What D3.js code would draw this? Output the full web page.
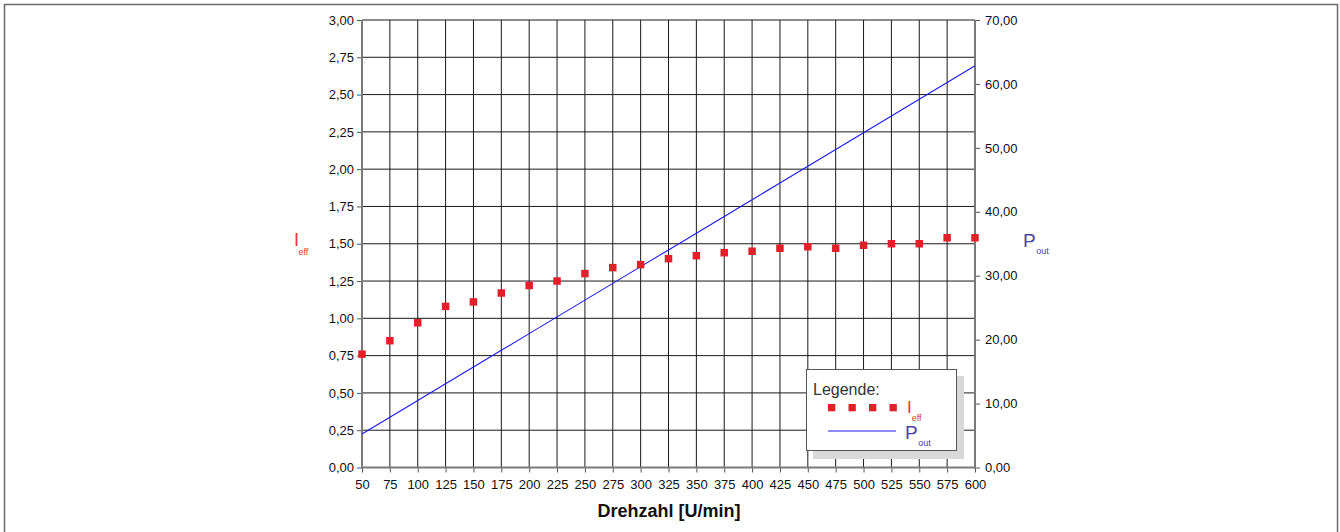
<!DOCTYPE html>
<html>
<head>
<meta charset="utf-8">
<script src="https://cdn.jsdelivr.net/npm/d3@7"></script>
<style>
  html, body { margin: 0; padding: 0; background: #fff; }
  svg { display: block; font-family: "Liberation Sans", Arial, sans-serif; }
</style>
</head>
<body>
<svg id="chart" width="1340" height="532"></svg>
<script>
// Drehzahl in U/min
const drehzahl = [50, 75, 100, 125, 150, 175, 200, 225, 250, 275, 300, 325, 350, 375, 400, 425, 450, 475, 500, 525, 550, 575, 600];
// Effektivstrom I_eff (linke Achse)
const iEff = [0.76, 0.85, 0.97, 1.08, 1.11, 1.17, 1.22, 1.25, 1.30, 1.34, 1.36, 1.40, 1.42, 1.44, 1.45, 1.47, 1.48, 1.47, 1.49, 1.50, 1.50, 1.54, 1.54];
// Abgegebene Leistung P_out (rechte Achse)
const pOut = [5.24, 7.85, 10.47, 13.09, 15.71, 18.33, 20.94, 23.56, 26.18, 28.80, 31.42, 34.03, 36.65, 39.27, 41.89, 44.51, 47.12, 49.74, 52.36, 54.98, 57.60, 60.21, 62.83];
// Achsenbeschriftungen
const xTicks = drehzahl;
const yLeftTicks = [0, 0.25, 0.5, 0.75, 1, 1.25, 1.5, 1.75, 2, 2.25, 2.5, 2.75, 3];
const yRightTicks = [0, 10, 20, 30, 40, 50, 60, 70];
const xTitle = "Drehzahl [U/min]";
const legendTitle = "Legende:";

const svg = d3.select("#chart");
const plot = { left: 362, right: 975, top: 20, bottom: 467.5 };

const x = d3.scaleLinear().domain([50, 600]).range([plot.left, plot.right]);
const yL = d3.scaleLinear().domain([0, 3]).range([plot.bottom, plot.top]);
const yR = d3.scaleLinear().domain([0, 70]).range([plot.bottom, plot.top]);

const fmt = v => d3.format(".2f")(v).replace(".", ",");

// Rahmen um die Grafik
svg.append("rect")
  .attr("x", 4.5).attr("y", 4.5).attr("width", 1333).attr("height", 600)
  .attr("fill", "none").attr("stroke", "#6a6a6a").attr("stroke-width", 1.5);

// Gitternetz
const grid = svg.append("g");
grid.selectAll(".gh").data(yLeftTicks.filter(v => v > 0)).join("line")
  .attr("x1", plot.left).attr("x2", plot.right)
  .attr("y1", d => yL(d)).attr("y2", d => yL(d))
  .attr("stroke", "#1a1a1a").attr("stroke-width", 1);
grid.selectAll(".gv").data(xTicks.filter(v => v > 50 && v < 600)).join("line")
  .attr("x1", d => x(d)).attr("x2", d => x(d))
  .attr("y1", plot.top).attr("y2", plot.bottom)
  .attr("stroke", "#1a1a1a").attr("stroke-width", 1);

// Achsen
const axisStyle = g => {
  g.select(".domain").remove();
  g.selectAll(".tick line").attr("stroke", "#555");
  g.selectAll(".tick text").attr("fill", "#111").attr("font-size", 13)
    .attr("font-family", "'Liberation Sans', Arial, sans-serif");
};
svg.append("g").attr("transform", `translate(${plot.left},0)`)
  .call(d3.axisLeft(yL).tickValues(yLeftTicks).tickFormat(fmt).tickSize(5).tickPadding(3))
  .call(axisStyle);
svg.append("g").attr("transform", `translate(${plot.right},0)`)
  .call(d3.axisRight(yR).tickValues(yRightTicks).tickFormat(fmt).tickSize(5).tickPadding(5))
  .call(axisStyle);
svg.append("g").attr("transform", `translate(0,${plot.bottom})`)
  .call(d3.axisBottom(x).tickValues(xTicks).tickFormat(d3.format("d")).tickSize(5).tickPadding(7))
  .call(axisStyle);

// Achslinien
const axisLines = svg.append("g").attr("stroke", "#7a7a7a").attr("stroke-width", 2);
axisLines.append("line").attr("x1", plot.left).attr("x2", plot.left).attr("y1", plot.top).attr("y2", plot.bottom + 1);
axisLines.append("line").attr("x1", plot.right).attr("x2", plot.right).attr("y1", plot.top).attr("y2", plot.bottom + 1);
axisLines.append("line").attr("x1", plot.left).attr("x2", plot.right).attr("y1", plot.bottom).attr("y2", plot.bottom);

// Leistungskurve
const line = d3.line().x((d, i) => x(drehzahl[i])).y(d => yR(d));
svg.append("path").datum(pOut)
  .attr("d", line).attr("fill", "none").attr("stroke", "#1a1aff").attr("stroke-width", 1.1);

// Strommesspunkte
const ms = 7.5;
svg.append("g").selectAll("rect").data(iEff).join("rect")
  .attr("x", (d, i) => x(drehzahl[i]) - ms / 2)
  .attr("y", d => yL(d) - ms / 2)
  .attr("width", ms).attr("height", ms)
  .attr("fill", "#e3202a");

// Achstitel
svg.append("text").attr("x", 669).attr("y", 517)
  .attr("text-anchor", "middle").attr("font-size", 18).attr("font-weight", "bold")
  .attr("fill", "#111").text(xTitle);

const redTxt = "#e8333a", blueTxt = "#4a44a8";
function subLabel(px, py, main, sub, size, color, subDx, subDy) {
  const t = svg.append("text").attr("x", px).attr("y", py).attr("fill", color);
  t.append("tspan").attr("font-size", size).text(main);
  t.append("tspan").attr("font-size", 9).attr("dx", subDx).attr("dy", subDy).text(sub);
}
subLabel(294, 246, "I", "eff", 18, redTxt, -0.5, 9);
subLabel(1023, 247, "P", "out", 19, blueTxt, 0.5, 7);

// Legende
const lg = svg.append("g");
lg.append("rect").attr("x", 813).attr("y", 376).attr("width", 151).attr("height", 83).attr("fill", "#d9d9d9");
lg.append("rect").attr("x", 806.5).attr("y", 369.5).attr("width", 150).attr("height", 81)
  .attr("fill", "#fff").attr("stroke", "#555").attr("stroke-width", 1);
lg.append("text").attr("x", 813).attr("y", 395).attr("font-size", 16).attr("fill", "#333").text(legendTitle);
lg.selectAll(".lm").data([0, 1, 2, 3]).join("rect")
  .attr("x", d => 828 + d * 20.5).attr("y", 404).attr("width", 7.3).attr("height", 7.3).attr("fill", "#e3202a");
subLabel(907, 413, "I", "eff", 17, redTxt, 0, 8);
lg.append("line").attr("x1", 828).attr("x2", 896).attr("y1", 431).attr("y2", 431)
  .attr("stroke", "#1a1aff").attr("stroke-width", 1.1);
subLabel(905, 439, "P", "out", 19, blueTxt, 0.5, 6.5);
</script>
</body>
</html>
